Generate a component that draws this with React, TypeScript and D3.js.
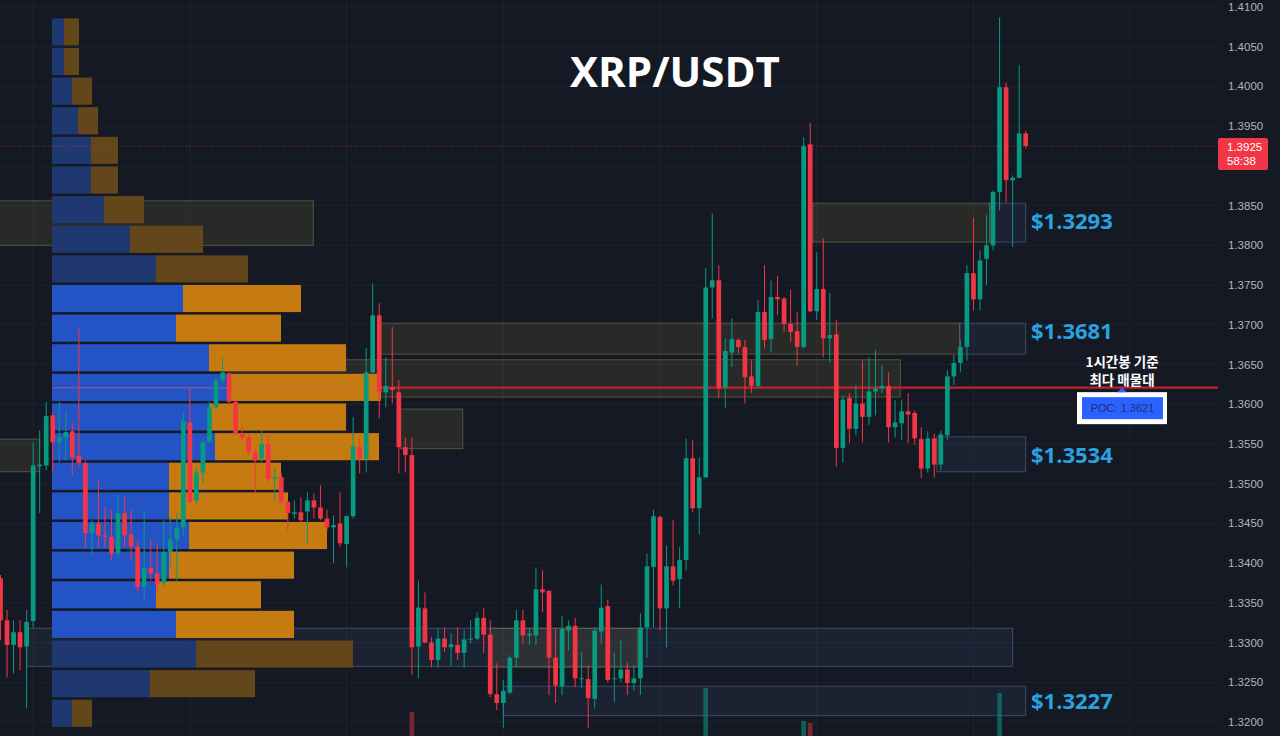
import React from 'react';
import * as d3 from 'd3';

// ---- DATA ----
// 1h candles, [open, high, low, close]
const candles: [number, number, number, number][] = [
  [1.3381, 1.3385, 1.3303, 1.3328], [1.3328, 1.3341, 1.3256, 1.3297], [1.3297, 1.3328, 1.3261, 1.3313],
  [1.3313, 1.3328, 1.3265, 1.3294], [1.3295, 1.3341, 1.3217, 1.3326], [1.3327, 1.3552, 1.3319, 1.3523],
  [1.3522, 1.3567, 1.3463, 1.3524], [1.3523, 1.3603, 1.3517, 1.3585], [1.3586, 1.3590, 1.3514, 1.3552],
  [1.3552, 1.3603, 1.3527, 1.3558], [1.3558, 1.3592, 1.3529, 1.3565], [1.3566, 1.3577, 1.3511, 1.3533],
  [1.3535, 1.3696, 1.3521, 1.3526], [1.3526, 1.3529, 1.3420, 1.3438], [1.3438, 1.3454, 1.3410, 1.3450],
  [1.3450, 1.3504, 1.3420, 1.3435], [1.3435, 1.3470, 1.3420, 1.3433], [1.3433, 1.3467, 1.3404, 1.3412],
  [1.3412, 1.3485, 1.3407, 1.3463], [1.3463, 1.3483, 1.3420, 1.3435], [1.3436, 1.3467, 1.3404, 1.3421],
  [1.3421, 1.3429, 1.3362, 1.3370], [1.3370, 1.3467, 1.3351, 1.3394], [1.3394, 1.3429, 1.3378, 1.3387],
  [1.3387, 1.3425, 1.3363, 1.3373], [1.3375, 1.3454, 1.3370, 1.3414], [1.3414, 1.3458, 1.3395, 1.3430],
  [1.3430, 1.3463, 1.3378, 1.3444], [1.3445, 1.3590, 1.3435, 1.3579], [1.3577, 1.3620, 1.3475, 1.3477],
  [1.3479, 1.3521, 1.3475, 1.3514], [1.3514, 1.3558, 1.3501, 1.3552], [1.3553, 1.3603, 1.3551, 1.3596],
  [1.3596, 1.3634, 1.3592, 1.3630], [1.3630, 1.3658, 1.3626, 1.3640], [1.3639, 1.3640, 1.3601, 1.3603],
  [1.3603, 1.3605, 1.3561, 1.3563], [1.3563, 1.3571, 1.3555, 1.3558], [1.3558, 1.3563, 1.3536, 1.3540],
  [1.3540, 1.3545, 1.3489, 1.3529], [1.3532, 1.3567, 1.3527, 1.3550], [1.3550, 1.3561, 1.3502, 1.3506],
  [1.3506, 1.3519, 1.3479, 1.3508], [1.3508, 1.3513, 1.3473, 1.3477], [1.3477, 1.3479, 1.3441, 1.3463],
  [1.3462, 1.3479, 1.3456, 1.3464], [1.3464, 1.3483, 1.3451, 1.3454], [1.3465, 1.3489, 1.3425, 1.3479],
  [1.3479, 1.3488, 1.3456, 1.3470], [1.3470, 1.3498, 1.3454, 1.3456], [1.3456, 1.3467, 1.3441, 1.3445],
  [1.3445, 1.3460, 1.3400, 1.3448], [1.3450, 1.3489, 1.3420, 1.3425], [1.3424, 1.3460, 1.3395, 1.3459],
  [1.3459, 1.3584, 1.3456, 1.3547], [1.3546, 1.3558, 1.3513, 1.3531], [1.3531, 1.3671, 1.3514, 1.3640],
  [1.3640, 1.3752, 1.3639, 1.3712], [1.3712, 1.3727, 1.3582, 1.3615], [1.3615, 1.3659, 1.3596, 1.3623],
  [1.3621, 1.3697, 1.3601, 1.3618], [1.3615, 1.3630, 1.3513, 1.3546], [1.3546, 1.3558, 1.3514, 1.3536],
  [1.3536, 1.3558, 1.3259, 1.3294], [1.3295, 1.3378, 1.3255, 1.3344], [1.3343, 1.3363, 1.3299, 1.3300],
  [1.3300, 1.3307, 1.3269, 1.3278], [1.3278, 1.3318, 1.3268, 1.3305], [1.3305, 1.3319, 1.3288, 1.3294],
  [1.3294, 1.3312, 1.3271, 1.3298], [1.3297, 1.3319, 1.3278, 1.3287], [1.3287, 1.3316, 1.3268, 1.3304],
  [1.3304, 1.3328, 1.3299, 1.3305], [1.3305, 1.3338, 1.3303, 1.3331], [1.3331, 1.3344, 1.3287, 1.3310],
  [1.3310, 1.3328, 1.3231, 1.3235], [1.3235, 1.3274, 1.3215, 1.3224], [1.3224, 1.3253, 1.3193, 1.3239],
  [1.3237, 1.3284, 1.3235, 1.3281], [1.3281, 1.3341, 1.3269, 1.3328], [1.3328, 1.3341, 1.3299, 1.3309],
  [1.3309, 1.3318, 1.3297, 1.3311], [1.3309, 1.3394, 1.3297, 1.3367], [1.3367, 1.3391, 1.3338, 1.3363],
  [1.3365, 1.3366, 1.3234, 1.3281], [1.3281, 1.3318, 1.3224, 1.3246], [1.3245, 1.3334, 1.3234, 1.3317],
  [1.3315, 1.3328, 1.3290, 1.3321], [1.3321, 1.3331, 1.3244, 1.3255], [1.3254, 1.3288, 1.3243, 1.3255],
  [1.3254, 1.3271, 1.3192, 1.3230], [1.3229, 1.3319, 1.3217, 1.3315], [1.3314, 1.3373, 1.3299, 1.3344],
  [1.3346, 1.3354, 1.3250, 1.3253], [1.3254, 1.3287, 1.3225, 1.3255], [1.3255, 1.3303, 1.3250, 1.3266],
  [1.3266, 1.3275, 1.3234, 1.3249], [1.3249, 1.3271, 1.3240, 1.3255], [1.3255, 1.3337, 1.3234, 1.3319],
  [1.3319, 1.3412, 1.3281, 1.3396], [1.3395, 1.3467, 1.3319, 1.3459], [1.3458, 1.3460, 1.3315, 1.3343],
  [1.3343, 1.3422, 1.3294, 1.3396], [1.3396, 1.3454, 1.3372, 1.3378], [1.3380, 1.3420, 1.3343, 1.3404],
  [1.3404, 1.3557, 1.3391, 1.3532], [1.3532, 1.3555, 1.3464, 1.3469], [1.3469, 1.3533, 1.3436, 1.3508],
  [1.3508, 1.3771, 1.3507, 1.3747], [1.3747, 1.3840, 1.3708, 1.3756], [1.3756, 1.3775, 1.3608, 1.3620],
  [1.3621, 1.3683, 1.3595, 1.3667], [1.3665, 1.3708, 1.3647, 1.3682], [1.3681, 1.3683, 1.3664, 1.3672],
  [1.3672, 1.3681, 1.3601, 1.3634], [1.3635, 1.3655, 1.3614, 1.3623], [1.3623, 1.3731, 1.3621, 1.3716],
  [1.3716, 1.3775, 1.3670, 1.3681], [1.3682, 1.3756, 1.3665, 1.3735], [1.3735, 1.3762, 1.3712, 1.3732],
  [1.3733, 1.3735, 1.3691, 1.3701], [1.3701, 1.3744, 1.3678, 1.3691], [1.3692, 1.3716, 1.3649, 1.3672],
  [1.3672, 1.3936, 1.3670, 1.3925], [1.3927, 1.3954, 1.3716, 1.3717], [1.3717, 1.3791, 1.3706, 1.3745],
  [1.3745, 1.3809, 1.3659, 1.3683], [1.3683, 1.3740, 1.3652, 1.3687], [1.3688, 1.3706, 1.3521, 1.3545],
  [1.3545, 1.3611, 1.3526, 1.3606], [1.3608, 1.3614, 1.3551, 1.3569], [1.3569, 1.3624, 1.3561, 1.3601],
  [1.3601, 1.3655, 1.3552, 1.3584], [1.3584, 1.3659, 1.3574, 1.3616], [1.3616, 1.3668, 1.3586, 1.3620],
  [1.3620, 1.3649, 1.3614, 1.3623], [1.3623, 1.3640, 1.3552, 1.3571], [1.3571, 1.3605, 1.3558, 1.3577],
  [1.3576, 1.3605, 1.3555, 1.3591], [1.3591, 1.3614, 1.3551, 1.3587], [1.3589, 1.3592, 1.3549, 1.3557],
  [1.3556, 1.3571, 1.3507, 1.3519], [1.3519, 1.3566, 1.3514, 1.3557], [1.3557, 1.3563, 1.3508, 1.3524],
  [1.3524, 1.3567, 1.3517, 1.3562], [1.3561, 1.3643, 1.3555, 1.3635], [1.3635, 1.3662, 1.3624, 1.3652],
  [1.3652, 1.3681, 1.3640, 1.3672], [1.3672, 1.3775, 1.3655, 1.3765], [1.3765, 1.3835, 1.3718, 1.3732],
  [1.3732, 1.3794, 1.3718, 1.3781], [1.3783, 1.3838, 1.3750, 1.3800], [1.3800, 1.3869, 1.3794, 1.3867],
  [1.3867, 1.4087, 1.3844, 1.3999], [1.3999, 1.4005, 1.3854, 1.3882], [1.3882, 1.3888, 1.3798, 1.3885],
  [1.3885, 1.4027, 1.3885, 1.3941], [1.3941, 1.3944, 1.3922, 1.3925],
];

// price axis ticks
const priceTicks = [1.41, 1.405, 1.40, 1.395, 1.385, 1.38, 1.375, 1.37, 1.365, 1.36, 1.355, 1.35, 1.345, 1.34, 1.335, 1.33, 1.325, 1.32];
const gridTicks = [1.41, 1.405, 1.40, 1.395, 1.39, 1.385, 1.38, 1.375, 1.37, 1.365, 1.36, 1.355, 1.35, 1.345, 1.34, 1.335, 1.33, 1.325, 1.32];

// volume profile rows, top (high) to bottom (low), volume in M XRP
const profileBuy = [1.2, 1.2, 2.0, 2.6, 3.9, 3.9, 5.2, 7.8, 10.4, 13.1, 12.4, 15.7, 17.8, 15.8, 16.3, 11.7, 11.7, 13.7, 11.7, 10.4, 12.4, 14.4, 9.8, 2.0];
const profileSell = [1.5, 1.5, 2.0, 2.0, 2.7, 2.7, 4.0, 7.3, 9.2, 11.8, 10.5, 13.7, 15.1, 13.6, 16.4, 11.2, 11.9, 13.8, 12.5, 10.5, 11.8, 15.7, 10.5, 2.0];
const valueAreaRows = [9, 20];

// supply / demand zones (candle index range, price range)
const oliveZones = [
  { i0: -2, i1: 47.9, hi: 1.3856, lo: 1.3800 },
  { i0: 124.4, i1: 151.5, hi: 1.3853, lo: 1.3804 },
  { i0: 58.1, i1: 146.9, hi: 1.3702, lo: 1.3663 },
  { i0: 34.0, i1: 137.8, hi: 1.3656, lo: 1.3609 },
  { i0: 61.2, i1: 70.8, hi: 1.3594, lo: 1.3544 },
  { i0: -2, i1: 6.0, hi: 1.3556, lo: 1.3515 },
  { i0: 75.0, i1: 97.5, hi: 1.3318, lo: 1.3269 },
];
const levelBoxes = [
  { i0: 151.5, i1: 157, hi: 1.3853, lo: 1.3804 },
  { i0: 146.9, i1: 157, hi: 1.3702, lo: 1.3663 },
  { i0: 143.4, i1: 157, hi: 1.3559, lo: 1.3515 },
  { i0: 4.0, i1: 155, hi: 1.3318, lo: 1.3270 },
  { i0: 77.0, i1: 157, hi: 1.3245, lo: 1.3208 },
];
const levelLabels = [
  { text: '$1.3293', price: 1.3831 },
  { text: '$1.3681', price: 1.3692 },
  { text: '$1.3534', price: 1.3536 },
  { text: '$1.3227', price: 1.3226 },
];

// the only volume bars tall enough to reach the visible area (M XRP)
const volumeSpikes = [
  { i: 63, v: 8.8 },
  { i: 108, v: 11.2 },
  { i: 123, v: 7.9 },
  { i: 124, v: 7.7 },
  { i: 153, v: 10.7 },
];

const lastPrice = 1.3925;
const countdown = '58:38';
const title = 'XRP/USDT';
const pocNote = ['1시간봉 기준', '최다 매물대'];

// ---- LAYOUT ----
const W = 1280, H = 736;
const PLOT_R = 1218;
const PROFILE_L = 52;
const UP = '#089981', DOWN = '#f23645';
const BG = '#151924';

export default function App() {
  const x = d3.scaleLinear().domain([0, candles.length - 1]).range([0.5, 1025.7]);
  const y = d3.scaleLinear().domain([1.32, 1.41]).range([722, 7]);
  const step = x(1) - x(0);
  const bw = step * 0.72;

  const pHi = d3.max(candles, (d) => d[1]) as number;
  const pLo = d3.min(candles, (d) => d[2]) as number;
  const rowStep = (pHi - pLo) / profileBuy.length;
  const volX = d3.scaleLinear().domain([0, 33]).range([0, 330]);
  const totals = profileBuy.map((b, k) => b + profileSell[k]);
  const pocRow = d3.maxIndex(totals);
  const poc = pHi - (pocRow + 0.5) * rowStep;
  const yPoc = y(poc);
  const pocEnd = PROFILE_L + volX(totals[pocRow]);

  const volY = d3.scaleLinear().domain([0, 12]).range([800, 680]);

  const vGrid = d3.range(5, 200, 24).map((i) => x(i)).filter((v) => v < PLOT_R);

  const font = "'Liberation Sans', Arial, sans-serif";

  return (
    <svg width={W} height={H} style={{ position: 'absolute', left: 0, top: 0, display: 'block' }}>
      <rect x={0} y={0} width={W} height={H} fill={BG} />
      {/* grid */}
      {gridTicks.map((t) => (
        <line key={'h' + t} x1={0} x2={PLOT_R} y1={y(t)} y2={y(t)} stroke="#1e2331" strokeWidth={1} />
      ))}
      {vGrid.map((v) => (
        <line key={'v' + v} x1={v} x2={v} y1={0} y2={H} stroke="#1e2331" strokeWidth={1} />
      ))}

      {/* level boxes */}
      {levelBoxes.map((z, k) => (
        <rect key={'lb' + k} x={x(z.i0)} y={y(z.hi)} width={x(z.i1) - x(z.i0)} height={y(z.lo) - y(z.hi)}
          fill="rgba(70,100,150,0.13)" stroke="rgba(95,120,165,0.5)" strokeWidth={1} />
      ))}
      {oliveZones.map((z, k) => (
        <rect key={'oz' + k} x={x(z.i0)} y={y(z.hi)} width={x(z.i1) - x(z.i0)} height={y(z.lo) - y(z.hi)}
          fill="rgba(120,112,60,0.2)" stroke="rgba(140,132,85,0.5)" strokeWidth={1} />
      ))}

      {/* volume spikes */}
      {volumeSpikes.map((s) => {
        const c = candles[s.i];
        const up = c[3] >= c[0];
        return (
          <rect key={'vs' + s.i} x={x(s.i) - bw / 2} y={volY(s.v)} width={bw} height={volY(0) - volY(s.v)}
            fill={up ? 'rgba(8,153,129,0.55)' : 'rgba(242,54,69,0.45)'} />
        );
      })}

      {/* volume profile */}
      {profileBuy.map((b, k) => {
        const top = y(pHi - k * rowStep) + 1;
        const bot = y(pHi - (k + 1) * rowStep) - 1.5;
        const inVA = k >= valueAreaRows[0] && k <= valueAreaRows[1];
        const wb = volX(b);
        const ws = volX(profileSell[k]);
        return (
          <g key={'pr' + k}>
            <rect x={PROFILE_L} y={top} width={wb} height={bot - top} fill={inVA ? '#2453c6' : '#1f3870'} />
            <rect x={PROFILE_L + wb} y={top} width={ws} height={bot - top} fill={inVA ? '#c57b10' : '#634619'} />
          </g>
        );
      })}

      {/* POC line */}
      <line x1={PROFILE_L} x2={pocEnd} y1={yPoc} y2={yPoc} stroke="rgba(240,90,90,0.45)" strokeWidth={1.5} />
      <line x1={pocEnd} x2={PLOT_R} y1={yPoc} y2={yPoc} stroke="#c3202b" strokeWidth={2.2} />

      {/* last price line */}
      <line x1={0} x2={PLOT_R} y1={y(lastPrice)} y2={y(lastPrice)} stroke="rgba(242,54,69,0.55)" strokeWidth={1} strokeDasharray="1 2" />

      {/* candles */}
      {candles.map((c, i) => {
        const [o, h, l, cl] = c;
        const up = cl >= o;
        const col = up ? UP : DOWN;
        const yt = y(Math.max(o, cl));
        const yb = y(Math.min(o, cl));
        return (
          <g key={'c' + i}>
            <line x1={x(i)} x2={x(i)} y1={y(h)} y2={y(l)} stroke={col} strokeWidth={1} />
            <rect x={x(i) - bw / 2} y={yt} width={bw} height={Math.max(1, yb - yt)} fill={col} />
          </g>
        );
      })}

      {/* level labels */}
      {levelLabels.map((lb) => (
        <text key={lb.text} x={1031} y={y(lb.price)} dy="0.36em" fill="#29a3e0" fontSize={22} fontWeight={700}
          fontFamily="'Open Sans', 'Noto Sans', sans-serif">{lb.text}</text>
      ))}

      {/* POC annotation */}
      <text x={1122} y={yPoc - 20.5} textAnchor="middle" fill="#ffffff" fontSize={13.5} fontWeight={700}
        fontFamily="'Noto Sans CJK KR', sans-serif">{pocNote[0]}</text>
      <text x={1122} y={yPoc - 3} textAnchor="middle" fill="#ffffff" fontSize={13.5} fontWeight={700}
        fontFamily="'Noto Sans CJK KR', sans-serif">{pocNote[1]}</text>
      <rect x={1077} y={yPoc + 4.5} width={90} height={32} fill="#ffffff" />
      <rect x={1082} y={yPoc + 9.5} width={81} height={22} fill="#2962ff" />
      <path d={`M${1117},${yPoc + 4.5} L${1127},${yPoc + 4.5} L${1122},${yPoc}`} fill="#2962ff" />
      <text x={1122.5} y={yPoc + 20.5} dy="0.35em" textAnchor="middle" fill="#26306e" fontSize={11} fontFamily={font}>
        {'POC: ' + poc.toFixed(4)}
      </text>

      {/* price axis */}
      {priceTicks.map((t) => (
        <text key={'t' + t} x={1228} y={y(t)} dy="0.35em" fill="#b2b5be" fontSize={11.5} fontFamily={font}>
          {t.toFixed(4)}
        </text>
      ))}
      <rect x={PLOT_R} y={y(lastPrice) - 8} width={50} height={32} rx={2} fill={DOWN} />
      <text x={1227} y={y(lastPrice) + 1} dy="0.35em" fill="#ffffff" fontSize={11.5} fontFamily={font}>{lastPrice.toFixed(4)}</text>
      <text x={1227} y={y(lastPrice) + 15} dy="0.35em" fill="#ffffff" fontSize={11.5} fontFamily={font}>{countdown}</text>

      {/* title */}
      <text x={675} y={87} textAnchor="middle" fill="#ffffff" fontSize={42} fontWeight={700}
        fontFamily="'Open Sans', 'Noto Sans', sans-serif">{title}</text>
    </svg>
  );
}
